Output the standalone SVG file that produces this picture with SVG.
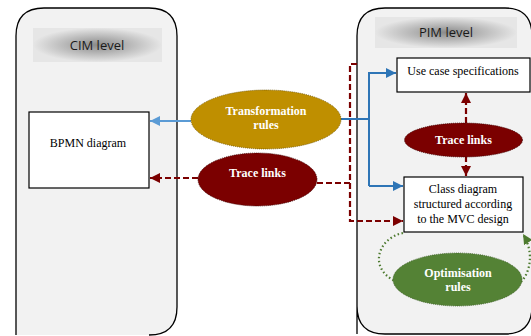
<svg xmlns="http://www.w3.org/2000/svg" width="531" height="336" viewBox="0 0 531 336">
  <defs>
    <radialGradient id="hdrGrad" cx="0.5" cy="0.5" r="0.5">
      <stop offset="0" stop-color="#8a8a8a"/>
      <stop offset="1" stop-color="#e6e6e6"/>
    </radialGradient>
    <marker id="arrBlue" viewBox="0 0 10 10" refX="10" refY="5" markerWidth="10" markerHeight="10" markerUnits="userSpaceOnUse" orient="auto">
      <path d="M0,0 L10,5 L0,10 z" fill="#5b9bd5"/>
    </marker>
    <marker id="arrBlueDk" viewBox="0 0 10 10" refX="10" refY="5" markerWidth="10" markerHeight="10" markerUnits="userSpaceOnUse" orient="auto">
      <path d="M0,0 L10,5 L0,10 z" fill="#2e75b6"/>
    </marker>
    <marker id="arrRed" viewBox="0 0 10 10" refX="10" refY="5" markerWidth="10" markerHeight="10" markerUnits="userSpaceOnUse" orient="auto">
      <path d="M0,0 L10,5 L0,10 z" fill="#7b0000"/>
    </marker>
    <marker id="arrGreen" viewBox="0 0 10 10" refX="10" refY="5" markerWidth="10" markerHeight="10" markerUnits="userSpaceOnUse" orient="auto">
      <path d="M0,0 L10,5 L0,10 z" fill="#4d7a2f"/>
    </marker>
  </defs>
  <style>
    .container { fill: #f2f2f2; stroke: #000; stroke-width: 1.3; }
    .header { fill: url(#hdrGrad); }
    .hdrText { font-family: "Open Sans", "Liberation Sans", sans-serif; font-size: 13px; fill: #1a1a1a; text-anchor: middle; }
    .box { fill: #fff; stroke: #000; stroke-width: 1.2; }
    .boxText { font-family: "Liberation Serif", "DejaVu Serif", serif; font-size: 12px; fill: #000; text-anchor: middle; }
    .ellText { font-family: "Liberation Serif", "DejaVu Serif", serif; font-size: 12px; font-weight: bold; fill: #fff; text-anchor: middle; }
    .gold { fill: #bf8f00; stroke: #6b5000; stroke-width: 0.8; stroke-dasharray: 1 1; }
    .maroon { fill: #7b0000; stroke: #3a0000; stroke-width: 0.8; stroke-dasharray: 1 1; }
    .green { fill: #548235; stroke: #3a5c24; stroke-width: 0.8; stroke-dasharray: 1 1; }
    .blue { fill: none; stroke: #5b9bd5; stroke-width: 2; }
    .blueDk { fill: none; stroke: #2e75b6; stroke-width: 2; }
    .trace { fill: none; stroke: #7b0000; stroke-width: 2.2; stroke-dasharray: 6 3; }
    .opt { fill: none; stroke: #4d7a2f; stroke-width: 2.2; stroke-dasharray: 1.5 2.5; }
  </style>

  <!-- level containers -->
  <g id="cim-level">
    <path class="container" d="M16,335 L16,36 Q16,8 44,8 L149,8 Q177,8 177,36 L177,307 Q177,335 149,335"/>
    <rect class="header" x="33" y="28" width="129" height="34"/>
    <text class="hdrText" x="97" y="50">CIM level</text>
  </g>
  <g id="pim-level">
    <path class="container" d="M357,334 L357,36 Q357,8 385,8 L505,8 Q532,8 532,36 L532,306 Q532,334 505,334 L385,334 Q357,334 357,306 Z"/>
    <rect class="header" x="375" y="17" width="142" height="31"/>
    <text class="hdrText" x="446" y="37">PIM level</text>
  </g>

  <!-- model nodes -->
  <g id="bpmn">
    <rect class="box" x="29" y="112" width="120" height="76"/>
    <text class="boxText" x="88" y="147" font-family="Liberation Serif, DejaVu Serif, serif">BPMN diagram</text>
  </g>
  <g id="use-cases">
    <rect class="box" x="397" y="58" width="133" height="34"/>
    <text class="boxText" x="463" y="75" font-family="Liberation Serif, DejaVu Serif, serif">Use case specifications</text>
  </g>
  <g id="class-diagram">
    <rect class="box" x="404" y="177" width="119" height="55"/>
    <text class="boxText" x="463" y="193">Class diagram</text>
    <text class="boxText" x="463" y="208">structured according</text>
    <text class="boxText" x="463" y="223">to the MVC design</text>
  </g>

  <!-- connectors -->
  <g id="connectors">
    <!-- transformation towards CIM -->
    <path class="blue" d="M191,121 L150,121" marker-end="url(#arrBlue)"/>
    <!-- transformation towards PIM -->
    <path class="blueDk" d="M341,119 L369,119"/>
    <path class="blueDk" d="M369,186 L369,73 L396,73" marker-end="url(#arrBlueDk)"/>
    <path class="blueDk" d="M369,186 L403,186" marker-end="url(#arrBlueDk)"/>
    <!-- trace links between levels -->
    <path class="trace" d="M198,178 L150,178" marker-end="url(#arrRed)"/>
    <path class="trace" d="M317,183 L350,183"/>
    <path class="trace" d="M357,64 L350,64 L350,221 L403,221" marker-end="url(#arrRed)"/>
    <!-- trace links inside PIM -->
    <path class="trace" d="M466,123 L466,93" marker-end="url(#arrRed)"/>
    <path class="trace" d="M466,156 L466,176" marker-end="url(#arrRed)"/>
    <!-- optimisation loop -->
    <path class="opt" d="M403,233 C378,238 368,268 395,281"/>
    <path class="opt" d="M521,282 C532,270 533,250 523,234" marker-end="url(#arrGreen)"/>
  </g>

  <!-- rule nodes -->
  <g id="transformation-rules">
    <ellipse class="gold" cx="266" cy="119.5" rx="75" ry="29.5"/>
    <text class="ellText" x="266" y="115">Transformation</text>
    <text class="ellText" x="266" y="129">rules</text>
  </g>
  <g id="trace-links-cim">
    <ellipse class="maroon" cx="257.5" cy="179.5" rx="59.5" ry="26.5"/>
    <text class="ellText" x="257.5" y="177">Trace links</text>
  </g>
  <g id="trace-links-pim">
    <ellipse class="maroon" cx="463.5" cy="140" rx="59" ry="17"/>
    <text class="ellText" x="463.5" y="144">Trace links</text>
  </g>
  <g id="optimisation-rules">
    <ellipse class="green" cx="457.5" cy="279.5" rx="64.5" ry="26.5"/>
    <text class="ellText" x="458" y="277">Optimisation</text>
    <text class="ellText" x="458" y="291">rules</text>
  </g>
</svg>
